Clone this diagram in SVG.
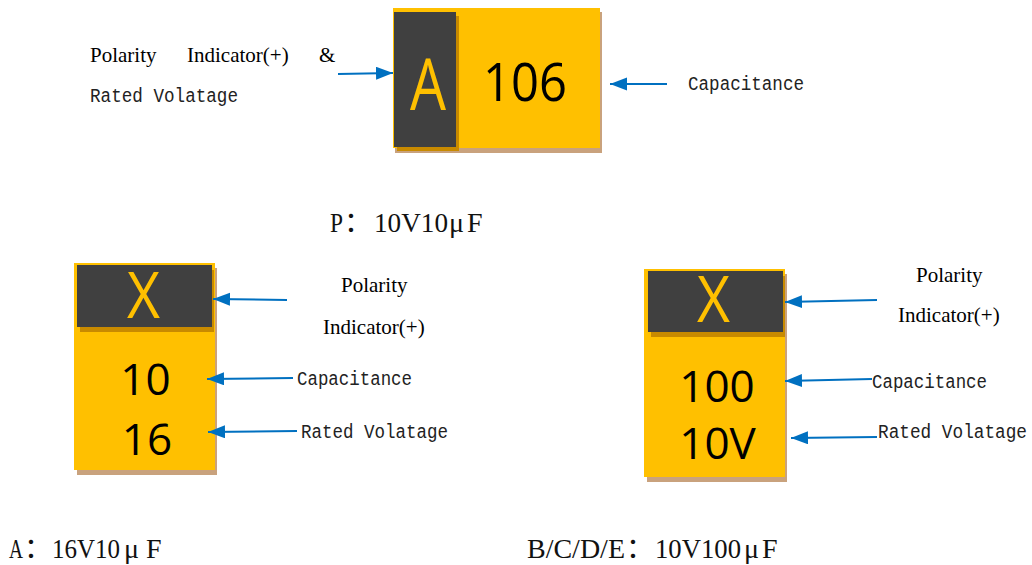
<svg xmlns="http://www.w3.org/2000/svg" width="1032" height="565" viewBox="0 0 1032 565">
<style>
.bg{fill:#ffffff}
.body{fill:#FFC000}
.shadow{fill:#C9A27D}
.band{fill:#404040}
.bandsh{fill:#C88A00}
.big{font-family:"Open Sans","Noto Sans",sans-serif;fill:#FFC000;text-anchor:middle}
.num{font-family:"Open Sans","Noto Sans",sans-serif;fill:#000000;text-anchor:middle}
.serif{font-family:"Liberation Serif","Times New Roman",serif;font-size:21px;fill:#000000}
.mono{font-family:"Liberation Mono","Courier New",monospace;font-size:20px;fill:#222222}
.cap{font-family:"Liberation Serif","Times New Roman",serif;font-size:28px;fill:#111111}
.cjk{font-family:"Liberation Serif","Noto Sans CJK SC",serif;font-size:28px}
.arrow{stroke:#0070C0;stroke-width:2;fill:none}
</style>
<defs>
<marker id="ah" markerUnits="userSpaceOnUse" markerWidth="18" markerHeight="14" refX="17" refY="6.5" orient="auto">
<path d="M0,0 L17,6.5 L0,13 Z" fill="#0070C0"/>
</marker>
</defs>
<rect class="bg" x="0" y="0" width="1032" height="565"/>

<g id="node-p">
<rect class="shadow" x="395" y="12" width="207" height="141"/>
<rect class="body" x="393" y="8" width="207" height="140"/>
<rect class="bandsh" x="397" y="16" width="62" height="135"/>
<rect class="band" x="394" y="12" width="62" height="135"/>
<text class="big" x="428" y="110" font-size="72" textLength="36" lengthAdjust="spacingAndGlyphs">A</text>
<text class="num" x="525" y="101" font-size="53" textLength="84" lengthAdjust="spacingAndGlyphs">106</text>
</g>

<g id="node-a">
<rect class="shadow" x="77" y="268" width="140" height="207"/>
<rect class="body" x="74" y="263" width="141" height="207"/>
<rect class="bandsh" x="80" y="270" width="134" height="62"/>
<rect class="band" x="77" y="265" width="135" height="62"/>
<text class="big" x="143.5" y="318" font-size="64" textLength="33" lengthAdjust="spacingAndGlyphs">X</text>
<text class="num" x="145.5" y="395" font-size="44">10</text>
<text class="num" x="147" y="455" font-size="44">16</text>
</g>

<g id="node-b">
<rect class="shadow" x="647" y="274" width="140" height="208"/>
<rect class="body" x="644" y="269" width="141" height="208"/>
<rect class="bandsh" x="651" y="276" width="134" height="61"/>
<rect class="band" x="648" y="271" width="135" height="61"/>
<text class="big" x="713.5" y="322" font-size="64" textLength="33" lengthAdjust="spacingAndGlyphs">X</text>
<text class="num" x="717" y="402" font-size="44">100</text>
<text class="num" x="717.5" y="459" font-size="44">10V</text>
</g>

<g id="connectors">
<line class="arrow" x1="338" y1="74" x2="393" y2="73" marker-end="url(#ah)"/>
<line class="arrow" x1="667" y1="84" x2="610" y2="84" marker-end="url(#ah)"/>
<line class="arrow" x1="287" y1="300" x2="213" y2="299" marker-end="url(#ah)"/>
<line class="arrow" x1="293" y1="378" x2="207" y2="379" marker-end="url(#ah)"/>
<line class="arrow" x1="297" y1="431" x2="208" y2="432" marker-end="url(#ah)"/>
<line class="arrow" x1="877" y1="300" x2="785" y2="302" marker-end="url(#ah)"/>
<line class="arrow" x1="872" y1="379" x2="785" y2="381" marker-end="url(#ah)"/>
<line class="arrow" x1="877" y1="437" x2="791" y2="438" marker-end="url(#ah)"/>
</g>

<g id="labels">
<text class="serif" y="62"><tspan x="90">Polarity</tspan><tspan x="187">Indicator(+)</tspan><tspan x="319">&amp;</tspan></text>
<text class="mono" x="90" y="102" textLength="148" lengthAdjust="spacingAndGlyphs">Rated Volatage</text>
<text class="mono" x="688" y="90" textLength="116" lengthAdjust="spacingAndGlyphs">Capacitance</text>

<text class="serif" x="341" y="292">Polarity</text>
<text class="serif" x="323" y="334">Indicator(+)</text>
<text class="mono" x="297" y="385" textLength="115" lengthAdjust="spacingAndGlyphs">Capacitance</text>
<text class="mono" x="301" y="438" textLength="147" lengthAdjust="spacingAndGlyphs">Rated Volatage</text>

<text class="serif" x="916" y="282">Polarity</text>
<text class="serif" x="898" y="322">Indicator(+)</text>
<text class="mono" x="872" y="388" textLength="115" lengthAdjust="spacingAndGlyphs">Capacitance</text>
<text class="mono" x="878" y="438" textLength="149" lengthAdjust="spacingAndGlyphs">Rated Volatage</text>

<text class="cap" y="232"><tspan x="330" textLength="13" lengthAdjust="spacingAndGlyphs">P</tspan><tspan class="cjk" x="344">：</tspan><tspan x="374" textLength="74" lengthAdjust="spacingAndGlyphs">10V10</tspan><tspan x="449">μ</tspan><tspan x="467">F</tspan></text>
<text class="cap" y="558"><tspan x="9" textLength="14" lengthAdjust="spacingAndGlyphs">A</tspan><tspan class="cjk" x="24">：</tspan><tspan x="52" textLength="68" lengthAdjust="spacingAndGlyphs">16V10</tspan><tspan x="124">μ</tspan><tspan x="146">F</tspan></text>
<text class="cap" y="558"><tspan x="527" textLength="98" lengthAdjust="spacingAndGlyphs">B/C/D/E</tspan><tspan class="cjk" x="626">：</tspan><tspan x="655" textLength="86" lengthAdjust="spacingAndGlyphs">10V100</tspan><tspan x="744">μ</tspan><tspan x="762">F</tspan></text>
</g>
</svg>
